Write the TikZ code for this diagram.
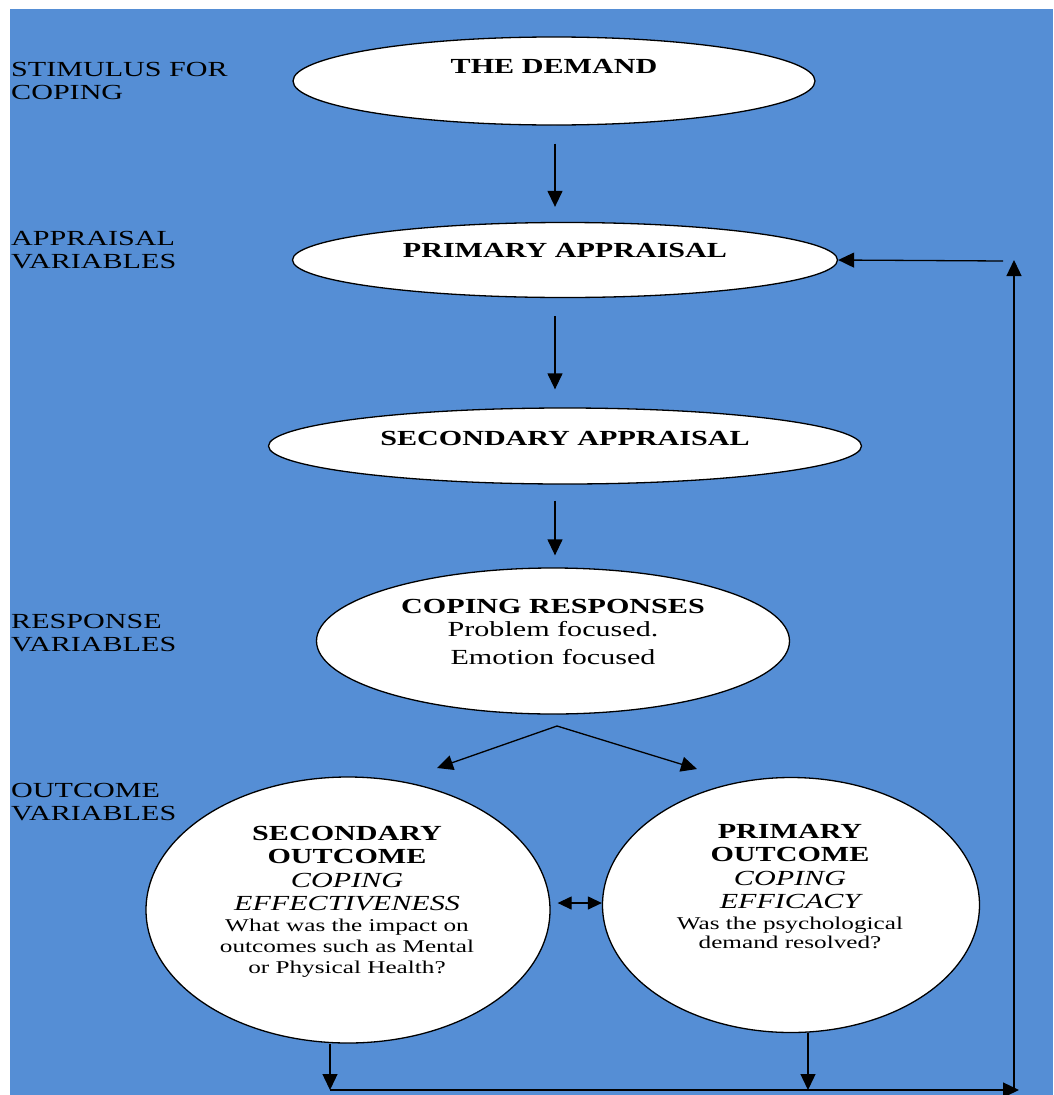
\documentclass[tikz,border=0pt]{standalone}
\usepackage{fontspec}
\setmainfont{Liberation Serif}[FakeStretch=1.4]
\usetikzlibrary{arrows.meta,positioning,shapes.geometric,calc}
\definecolor{bgblue}{RGB}{85,142,213}

\begin{document}
\begin{tikzpicture}[x=1pt, y=-1pt,
  oval/.style={
    ellipse, draw=black, fill=white,
    line width=1.3pt, inner sep=0pt
  },
  head/.style={
    font=\fontsize{21.5}{23.5}\selectfont\bfseries,
    align=center, inner sep=0pt
  },
  side/.style={
    font=\fontsize{21.5}{23}\selectfont,
    align=left, anchor=north west, inner sep=0pt
  },
  arrow/.style={-{Triangle[length=16pt,width=15pt]},line width=1.3pt},
  twoway/.style={{Triangle[length=14pt,width=13pt]}-{Triangle[length=14pt,width=13pt]},line width=1.3pt}
]
\useasboundingbox (0,0) rectangle (1053,1095);
\fill[bgblue] (10,9) rectangle (1053,1095);

% row labels
\node[side] (stimulus) at (11,62) {STIMULUS FOR\\COPING};
\node[side] (appraisal) at (11,231) {APPRAISAL\\VARIABLES};
\node[side] (response) at (11,614) {RESPONSE\\VARIABLES};
\node[side] (outcome) at (11,783) {OUTCOME\\VARIABLES};

% ovals
\node[oval, minimum width=522pt, minimum height=88pt] (demand) at (554,81) {};
\node[head] (demandtxt) at (554,66) {THE DEMAND};

\node[oval, minimum width=545pt, minimum height=75pt] (primary) at (565,260) {};
\node[head] (primarytxt) at (565,250) {PRIMARY APPRAISAL};

\node[oval, minimum width=593pt, minimum height=76pt] (secondary) at (565,446) {};
\node[head] (secondarytxt) at (565,438) {SECONDARY APPRAISAL};

\node[oval, minimum width=473pt, minimum height=146pt] (coping) at (553,641) {};
\node[head, anchor=north] (copingtxt) at (553,599)
  {COPING RESPONSES\\[-0.5pt]{\mdseries Problem focused.}\\[4.5pt]{\mdseries Emotion focused}};

% outcomes
\node[oval, minimum width=404pt, minimum height=266pt] (secout) at (348,910) {};
\node[head, anchor=north] (secouttxt) at (347,826)
  {SECONDARY\\OUTCOME\\{\mdseries\itshape COPING}\\{\mdseries\itshape EFFECTIVENESS}\\[-2.5pt]
   {\mdseries\fontsize{18}{21}\selectfont What was the impact on}\\[-2.5pt]
   {\mdseries\fontsize{18}{21}\selectfont outcomes such as Mental}\\[-2.5pt]
   {\mdseries\fontsize{18}{21}\selectfont or Physical Health?}};

\node[oval, minimum width=377pt, minimum height=255pt] (priout) at (791,905) {};
\node[head, anchor=north] (priouttxt) at (790,824)
  {PRIMARY\\OUTCOME\\{\mdseries\itshape COPING}\\{\mdseries\itshape EFFICACY}\\[-2.5pt]
   {\mdseries\fontsize{18}{21}\selectfont Was the psychological}\\[-4.5pt]
   {\mdseries\fontsize{18}{21}\selectfont demand resolved?}};

% loop points
\coordinate (fork) at (557,726);
\coordinate (forkL) at (437,768);
\coordinate (forkR) at (697,769);
\coordinate (loopL) at (330,1090);
\coordinate (loopM) at (808,1090);
\coordinate (loopR) at (1014,1090);
\coordinate (feedT) at (1014,260);
\coordinate (feedS) at (1003,261);

\draw[arrow, shorten <=18pt, shorten >=15pt] (demand.south -| 555,0) -- (primary.north -| 555,0);
\draw[arrow, shorten <=18pt, shorten >=18pt] (primary.south -| 555,0) -- (secondary.north -| 555,0);
\draw[arrow, shorten <=16pt, shorten >=12pt] (secondary.south -| 555,0) -- (coping.north -| 555,0);
\draw[arrow] (fork) -- (forkL);
\draw[arrow] (fork) -- (forkR);
\draw[twoway] ([xshift=7pt]secout.east |- 0,903) -- (priout.west |- 0,903);

% feedback loop
\draw[arrow] (secout.south -| loopL) -- (loopL);
\draw[arrow] (priout.south -| loopM) -- (loopM);
\draw[arrow] (loopL) -- ([xshift=5pt]loopR);
\draw[arrow] (loopR) -- (feedT);
\draw[arrow] (feedS) -- (primary.east);
\end{tikzpicture}
\end{document}
